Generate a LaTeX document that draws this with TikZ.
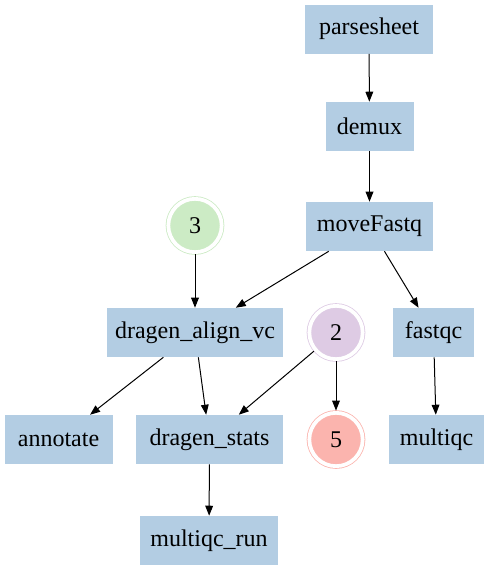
\documentclass[tikz,border=0pt]{standalone}
\usepackage{fontspec}
\setmainfont{Liberation Serif}
\usetikzlibrary{arrows.meta}
\definecolor{boxblue}{HTML}{B3CDE3}
\definecolor{pgreen}{HTML}{CCEBC5}
\definecolor{ppurple}{HTML}{DECBE4}
\definecolor{pred}{HTML}{FBB4AE}
\tikzset{
  proc/.style={rectangle, fill=boxblue, draw=none, minimum height=36.75pt, inner sep=0pt, font=\fontsize{18}{21}\selectfont},
  dcirc/.style={circle, draw=#1, fill=#1, line width=0.6pt, double=white, double distance=2.8pt, minimum size=40pt, inner sep=0pt, outer sep=1.7pt, font=\fontsize{18}{21}\selectfont},
  edge/.style={draw=black, line width=0.75pt, -{Triangle[length=7.5pt,width=5.8pt]}},
}
\begin{document}
\begin{tikzpicture}[x=0.75pt,y=-0.75pt]
\useasboundingbox (0,0) rectangle (490,571);
\node[proc, minimum width=96pt] (parsesheet) at (369,29) {parsesheet};
\node[proc, minimum width=66pt] (demux) at (369.5,126.5) {demux};
\node[proc, minimum width=95.25pt] (moveFastq) at (369.5,226.5) {moveFastq};
\node[dcirc=pgreen] (c3) at (195,225.5) {3};
\node[proc, minimum width=132pt] (align) at (195,332.5) {dragen\_align\_vc};
\node[dcirc=ppurple] (c2) at (336,332.5) {2};
\node[proc, minimum width=60.75pt] (fastqc) at (433.5,332.5) {fastqc};
\node[proc, minimum width=81pt] (annotate) at (58.5,439.5) {annotate};
\node[proc, minimum width=110.25pt] (stats) at (209.5,439.5) {dragen\_stats};
\node[dcirc=pred] (c5) at (336,439.5) {5};
\node[proc, minimum width=71.25pt] (multiqc) at (436.5,439.5) {multiqc};
\node[proc, minimum width=103.5pt] (mqrun) at (209,540.5) {multiqc\_run};
\draw[edge] (parsesheet) -- (demux);
\draw[edge] (demux) -- (moveFastq);
\draw[edge] (moveFastq) -- (align);
\draw[edge] (moveFastq) -- (fastqc);
\draw[edge] (c3) -- (align);
\draw[edge] (align) -- (annotate);
\draw[edge] (align) -- (stats);
\draw[edge] (c2) -- (stats);
\draw[edge] (c2) -- (c5);
\draw[edge] (fastqc) -- (multiqc);
\draw[edge] (stats) -- (mqrun);
\end{tikzpicture}
\end{document}
